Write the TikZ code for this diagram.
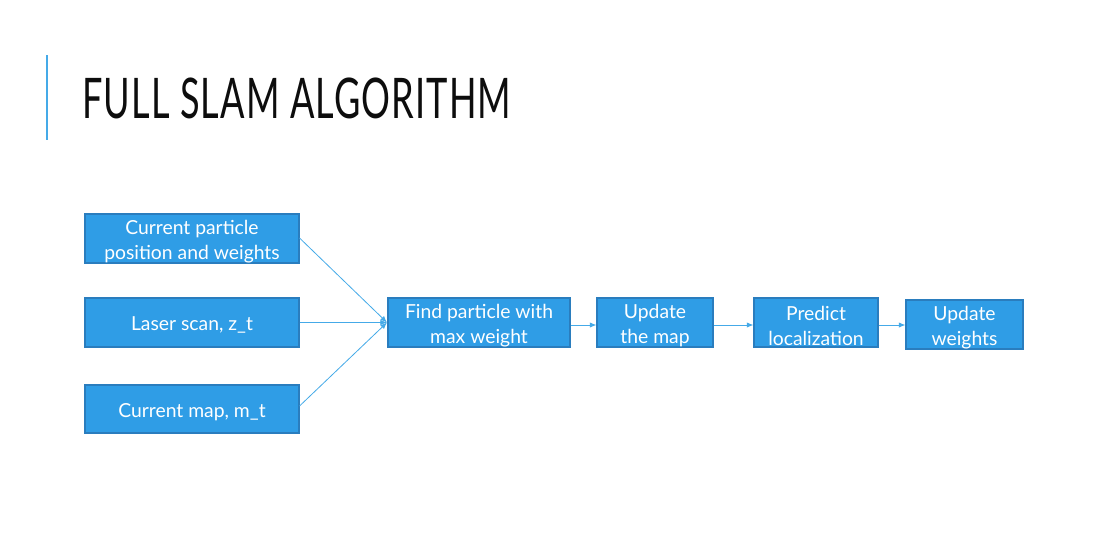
\documentclass[tikz,border=0pt]{standalone}
\usepackage{fontspec}
\setmainfont{Lato}
\newfontfamily\titlefont[FakeStretch=0.645,LetterSpace=2]{Lato}
\usetikzlibrary{arrows.meta}
\definecolor{boxfill}{HTML}{2F9DE6}
\definecolor{boxedge}{HTML}{2A7DBE}
\definecolor{linec}{HTML}{45AAE8}
\begin{document}
\begin{tikzpicture}[x=0.75pt,y=-0.75pt,
  box/.style={draw=boxedge,line width=0.8pt,fill=boxfill,inner sep=0pt,anchor=center},
  txt/.style={text=white,font=\fontsize{14.5}{18.75}\selectfont,align=center,inner sep=0pt,yshift=-2.6pt},
  conn/.style={draw=linec,line width=0.6pt,-{Latex[length=5pt,width=4pt]}}]
\useasboundingbox (0,0) rectangle (1112,550);
\fill[white] (0,0) rectangle (1112,550);
\draw[linec,line width=1.2pt] (47,55) -- (47,140);
\node[anchor=west,inner sep=0pt,font=\titlefont\fontsize{42}{45}\selectfont,text=black!95] (title) at (82,98) {FULL SLAM ALGORITHM};
\node[box,minimum width=214*0.75pt,minimum height=49*0.75pt] (a) at (192,238.5) {};
\node[box,minimum width=214*0.75pt,minimum height=49*0.75pt] (b) at (192,322.5) {};
\node[box,minimum width=214*0.75pt,minimum height=48*0.75pt] (c) at (192,409) {};
\node[box,minimum width=182*0.75pt,minimum height=49*0.75pt] (d) at (479,322.5) {};
\node[box,minimum width=116*0.75pt,minimum height=49*0.75pt] (e) at (655,322.5) {};
\node[box,minimum width=124*0.75pt,minimum height=49*0.75pt] (f) at (816,322.5) {};
\node[box,minimum width=117*0.75pt,minimum height=49*0.75pt] (g) at (964.5,324.5) {};
\node[txt] (at) at (a.center) {Current particle\\position and weights};
\node[txt,yshift=0.8pt] (bt) at (b.center) {Laser scan, z\_t};
\node[txt] (ct) at (c.center) {Current map, m\_t};
\node[txt] (dt) at (d.center) {Find particle with\\max weight};
\node[txt] (et) at (e.center) {Update\\the map};
\node[txt] (ft) at (f.center) {Predict\\localization};
\node[txt] (gt) at (g.center) {Update\\weights};
\coordinate (din) at (387,322.5);
\draw[conn] (a.north east |- 0,238) -- (din);
\draw[conn] (b.east) -- (din);
\draw[conn] (c.east |- 0,406) -- (din);
\draw[conn] (d.east |- 0,325) -- (e.west |- 0,325);
\draw[conn] (e.east |- 0,325) -- (f.west |- 0,325);
\draw[conn] (f.east |- 0,325) -- (g.west |- 0,325);
\end{tikzpicture}
\end{document}
